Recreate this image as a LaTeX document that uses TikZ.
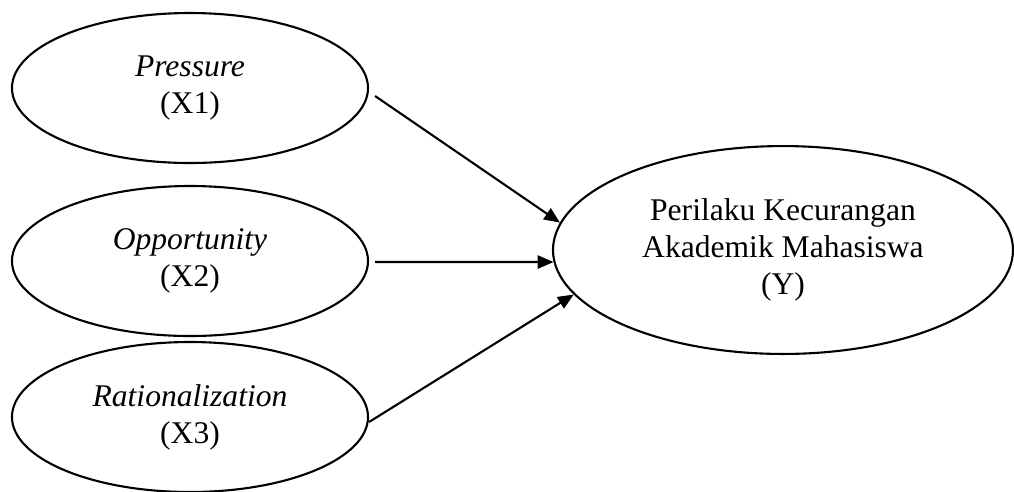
\documentclass[tikz,border=0pt]{standalone}
\usepackage{fontspec}
\setmainfont{Liberation Serif}
\usetikzlibrary{shapes.geometric,arrows.meta}
\begin{document}
\begin{tikzpicture}[x=0.38pt,y=-0.38pt,
  latent/.style={ellipse,draw,line width=0.8pt,inner sep=0pt,align=center,
    font=\fontsize{12}{14}\selectfont},
  small/.style={latent,minimum width=135.3pt,minimum height=57pt},
  big/.style={latent,minimum width=174.8pt,minimum height=79pt},
  link/.style={line width=0.8pt,-{Triangle[length=6pt,width=5pt]}}]
\useasboundingbox (0,0) rectangle (1014,491);
\node[small] (x1) at (190,88)  {\textit{Pressure}\\(X1)};
\node[small] (x2) at (190,261) {\textit{Opportunity}\\(X2)};
\node[small] (x3) at (190,417) {\textit{Rationalization}\\(X3)};
\node[big]   (y)  at (783,250) {Perilaku Kecurangan\\Akademik Mahasiswa\\(Y)};
\draw[link] ([shift={(6,8)}]x1.east) -- (y.173.4);
\draw[link] ([shift={(6,1)}]x2.east) -- (y.183.3);
\draw[link] ([shift={(0,5)}]x3.east) -- (y.192.9);
\end{tikzpicture}
\end{document}
